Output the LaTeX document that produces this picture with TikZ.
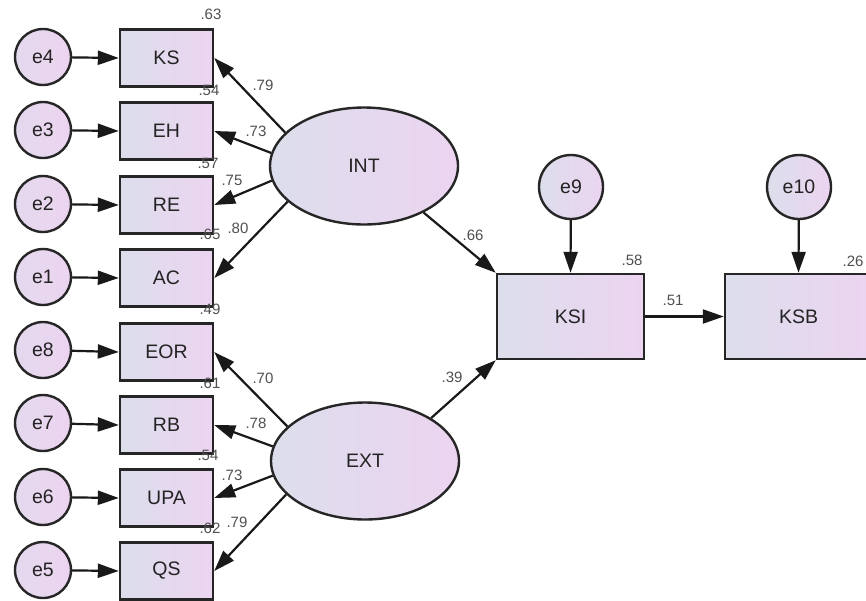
\documentclass[tikz,border=0pt]{standalone}
\usepackage{fontspec}
\setmainfont{Liberation Sans}
\usetikzlibrary{shapes.geometric,arrows.meta}
\definecolor{cl}{RGB}{220,222,236}
\definecolor{cr}{RGB}{236,212,240}
\definecolor{txtc}{RGB}{35,35,35}
\definecolor{numc}{RGB}{80,80,80}
\begin{document}
\begin{tikzpicture}[x=1pt,y=-1pt,
  obs/.style={draw=black!85, line width=2.4pt, left color=cl, right color=cr,
    minimum width=93pt, minimum height=57pt, inner sep=0pt,
    font=\fontsize{19.5}{19.5}\selectfont, text=txtc},
  big/.style={obs, minimum width=147pt, minimum height=85pt},
  err/.style={circle, draw=black!85, line width=2.4pt, left color=cl!50!cr, right color=cr,
    minimum size=56pt, inner sep=0pt, font=\fontsize{19.5}{19.5}\selectfont, text=txtc},
  errb/.style={err, minimum size=64pt, left color=cl, right color=cr},
  lat/.style={ellipse, draw=black!85, line width=2.4pt, left color=cl, right color=cr,
    minimum width=188pt, minimum height=117pt, inner sep=0pt,
    font=\fontsize{19.5}{19.5}\selectfont, text=txtc},
  val/.style={font=\fontsize{15}{15}\selectfont, text=numc, inner sep=0pt},
  arr/.style={line width=2.2pt, draw=black!90, -{Triangle[length=21pt,width=14pt]}},
]
\clip (0,0) rectangle (866,600);
\fill[white] (0,0) rectangle (866,600);

% observed indicators
\node[obs] (KS)  at (166.5,58)  {KS};
\node[obs] (EH)  at (166.5,131) {EH};
\node[obs] (RE)  at (166.5,205) {RE};
\node[obs] (AC)  at (166.5,278) {AC};
\node[obs] (EOR) at (166.5,352) {EOR};
\node[obs] (RB)  at (166.5,425) {RB};
\node[obs] (UPA) at (166.5,498) {UPA};
\node[obs] (QS)  at (166.5,571) {QS};

% error terms
\node[err] (e4) at (43,57)  {e4};
\node[err] (e3) at (43,130) {e3};
\node[err] (e2) at (43,204) {e2};
\node[err] (e1) at (43,277) {e1};
\node[err] (e8) at (43,350) {e8};
\node[err] (e7) at (43,423) {e7};
\node[err] (e6) at (43,497) {e6};
\node[err] (e5) at (43,570) {e5};

% latent variables
\node[lat] (INT) at (364,166) {INT};
\node[lat] (EXT) at (365,461) {EXT};

% outcomes
\node[big] (KSI) at (570.5,316.5) {KSI};
\node[big] (KSB) at (798.5,316.5) {KSB};
\node[errb] (e9)  at (571,187) {e9};
\node[errb] (e10) at (799,187) {e10};

% error arrows
\foreach \e/\b in {e4/KS,e3/EH,e2/RE,e1/AC,e8/EOR,e7/RB,e6/UPA,e5/QS}
  \draw[arr] (\e) -- (\b.west);

% loadings
\draw[arr] (INT.157) -- (KS.east);
\draw[arr] (INT.172) -- (EH.east);
\draw[arr] (INT.189) -- (RE.east);
\draw[arr] (INT.205) -- (AC.east);
\draw[arr] (EXT.156) -- (EOR.east);
\draw[arr] (EXT.171) -- (RB.east);
\draw[arr] (EXT.189) -- (UPA.east);
\draw[arr] (EXT.203) -- (QS.east);

% structural paths
\draw[arr] (INT.322) -- (KSI.north west);
\draw[arr] (EXT.33) -- (KSI.south west);
\draw[arr] (KSI.east) -- (KSB.west);
\draw[arr] (e9) -- (KSI.north);
\draw[arr] (e10) -- (KSB.north);

% R-squared values
\node[val] (r1) at (211,14)  {.63};
\node[val] (r2) at (209,90)  {.54};
\node[val] (r3) at (208,163) {.57};
\node[val] (r4) at (210,234) {.65};
\node[val] (r5) at (210,309) {.49};
\node[val] (r6) at (210,383) {.61};
\node[val] (r7) at (208,455) {.54};
\node[val] (r8) at (210,528) {.62};
\node[val] (r9) at (632,260) {.58};
\node[val] (r10) at (853,261) {.26};

% loading values
\node[val] (l1) at (263,85)  {.79};
\node[val] (l2) at (256,131) {.73};
\node[val] (l3) at (232,180) {.75};
\node[val] (l4) at (238,228) {.80};
\node[val] (l5) at (263,378) {.70};
\node[val] (l6) at (256,423) {.78};
\node[val] (l7) at (232,475) {.73};
\node[val] (l8) at (237,522) {.79};

% path values
\node[val] (p1) at (473,235) {.66};
\node[val] (p2) at (452,377) {.39};
\node[val] (p3) at (673,300) {.51};
\end{tikzpicture}
\end{document}
